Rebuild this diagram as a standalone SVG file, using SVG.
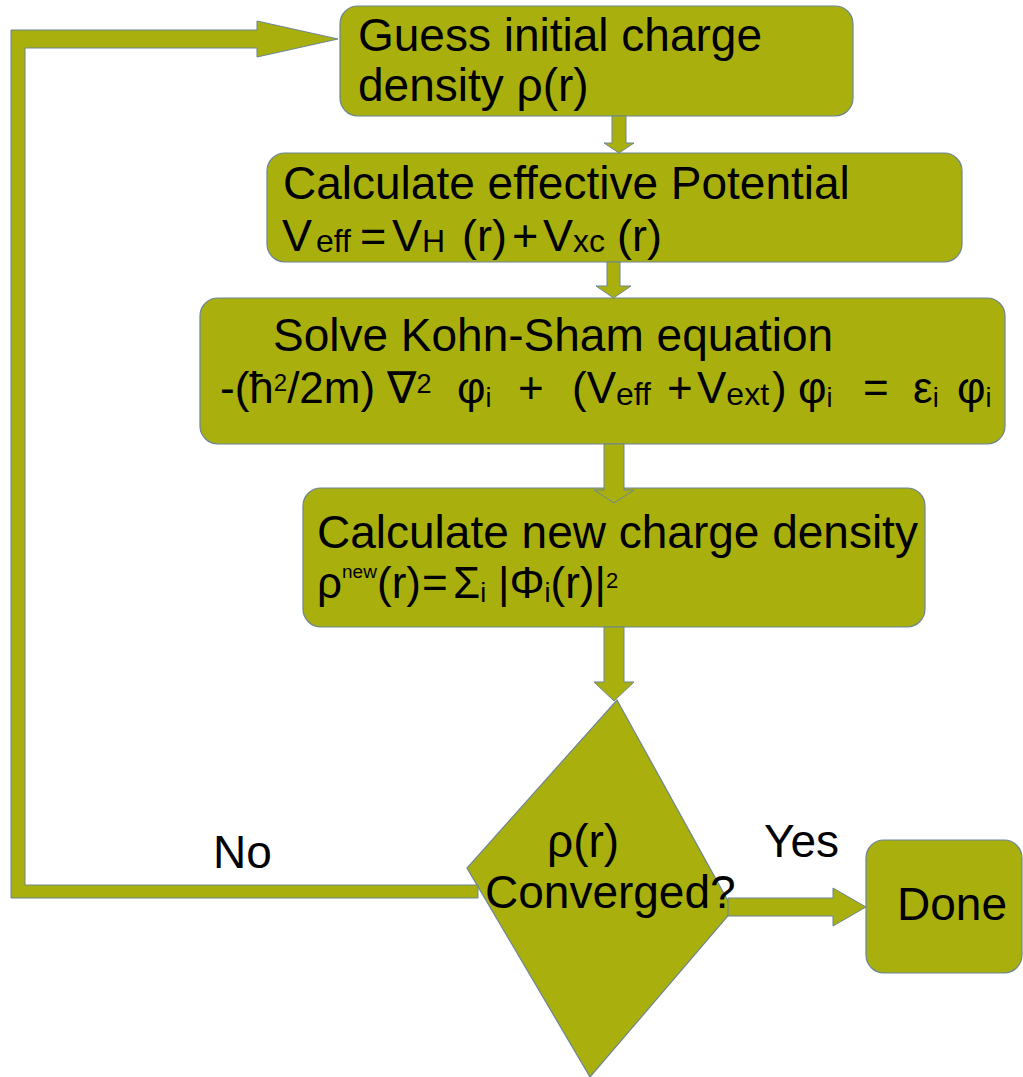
<svg xmlns="http://www.w3.org/2000/svg" width="1023" height="1077" viewBox="0 0 1023 1077">
<style>
.shape{fill:#a9b00d;stroke:#6b8596;stroke-width:1.2}
.conn{fill:#a9b00d;stroke:#6b8596;stroke-width:1}
.t{font-family:"Liberation Sans","DejaVu Sans",Arial,sans-serif;font-size:46px;fill:#000;white-space:pre}
.m{font-size:44px}
.sub{font-size:32px}
.ss{font-size:27px}
</style>
<rect width="1023" height="1077" fill="#fff"/>
<g id="n1">
<rect class="shape" x="340" y="6" width="513" height="110" rx="18"/>
<text class="t"><tspan x="358" y="51">Guess initial charge</tspan><tspan x="358" y="101">density ρ(r)</tspan></text>
</g>
<g id="n2">
<rect class="shape" x="267" y="153" width="695" height="109" rx="18"/>
<text class="t" x="283" y="199">Calculate effective Potential</text>
<text class="t" style="font-size:45px"><tspan x="282" y="251">V</tspan><tspan class="sub" x="316" y="252">eff</tspan><tspan x="360" y="251">=</tspan><tspan x="392" y="251">V</tspan><tspan class="sub" y="252">H</tspan><tspan x="462" y="251">(r)</tspan><tspan x="512" y="251">+</tspan><tspan x="543" y="251">V</tspan><tspan class="sub" y="252">xc</tspan><tspan x="617" y="251">(r)</tspan></text>
</g>
<g id="n3">
<rect class="shape" x="200" y="298" width="805" height="146" rx="18"/>
<text class="t" x="273" y="351">Solve Kohn-Sham equation</text>
<text class="t m"><tspan x="220" y="403">-(ħ</tspan><tspan style="font-size:24px" y="391">2</tspan><tspan y="403">/2m)</tspan><tspan x="387" y="403">∇</tspan><tspan class="ss" y="393">2</tspan><tspan x="457" y="403">φ</tspan><tspan class="ss" y="407">i</tspan><tspan x="518" y="403">+</tspan><tspan x="572" y="403">(V</tspan><tspan class="sub" y="405">eff</tspan><tspan x="667" y="403">+</tspan><tspan x="697" y="403">V</tspan><tspan class="sub" y="405">ext</tspan><tspan x="772" y="403">)</tspan><tspan x="798" y="403">φ</tspan><tspan class="ss" y="407">i</tspan><tspan x="863" y="403">=</tspan><tspan x="913" y="403">ε</tspan><tspan class="ss" y="407">i</tspan><tspan x="957" y="403">φ</tspan><tspan class="ss" y="407">i</tspan></text>
</g>
<g id="n4">
<rect class="shape" x="303" y="488" width="622" height="139" rx="18"/>
<text class="t" x="317" y="548">Calculate new charge density</text>
<text class="t m"><tspan x="317" y="598">ρ</tspan><tspan style="font-size:19px" y="578">new</tspan><tspan x="377" y="598">(r)</tspan><tspan x="422" y="598">=</tspan><tspan x="453" y="598">Σ</tspan><tspan class="ss" y="602">i</tspan><tspan x="498" y="598">|Φ</tspan><tspan class="ss" y="602">i</tspan><tspan y="598">(r)|</tspan><tspan style="font-size:22px" y="588">2</tspan></text>
</g>
<g id="n5">
<polygon class="shape" points="617,700 733,910 590,1077 467,868"/>
<text class="t" x="547" y="857">ρ(r)</text>
<text class="t" x="485" y="908">Converged?</text>
</g>
<g id="n6">
<rect class="shape" x="866" y="840" width="156" height="133" rx="18"/>
<text class="t" x="897" y="920">Done</text>
</g>
<g id="connectors">
<polygon class="conn" points="612,116 626,116 626,143 634,143 619,153 604,143 612,143"/>
<polygon class="conn" points="607,262 620,262 620,286 631,286 613.5,298 596,286 607,286"/>
<polygon class="conn" points="604,444 624,444 624,490 634,490 614,503 594,490 604,490"/>
<polygon class="conn" points="604,627 624,627 624,682 634,682 614,701 594,682 604,682"/>
<polygon class="conn" points="11,30 257,30 257,21 338,39 257,57 257,48 25,48 25,885 478,885 478,898 11,898"/>
<polygon class="conn" points="728,898 833,898 833,888 866,907 833,926 833,916 728,916"/>
<text class="t" x="213" y="868">No</text>
<text class="t" x="764" y="857">Yes</text>
</g>
</svg>
